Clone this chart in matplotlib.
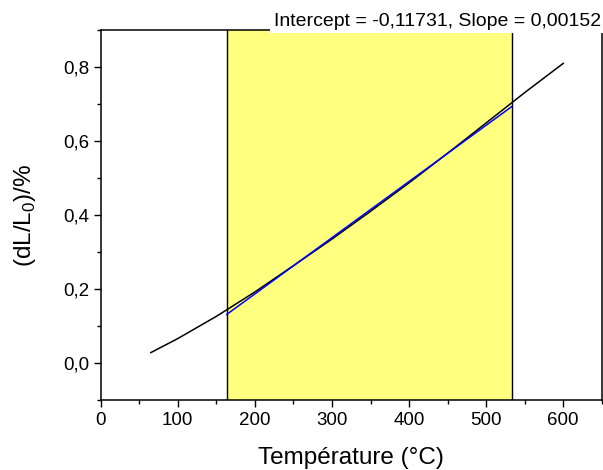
import matplotlib
matplotlib.use('Agg')
import matplotlib.pyplot as plt
from matplotlib.ticker import MultipleLocator, FuncFormatter

plt.rcParams['font.family'] = ['Liberation Sans', 'DejaVu Sans']
plt.rcParams['mathtext.fontset'] = 'custom'
plt.rcParams['mathtext.rm'] = 'Liberation Sans'

# measured dilatation curve
temp = [65, 100, 150, 200, 250, 300, 350, 400, 450, 500, 550, 600]
dl = [0.028, 0.066, 0.126, 0.192, 0.263, 0.335, 0.410, 0.487, 0.567, 0.649, 0.731, 0.810]

# linear fit over the shaded range
fit_range = [163.5, 534]
intercept = -0.11731
slope = 0.00152
fit_y = [intercept + slope * t for t in fit_range]

fig = plt.figure(figsize=(6.03, 4.70), dpi=100)
ax = fig.add_axes([0.167, 0.149, 0.831, 0.787])

ax.axvspan(fit_range[0], fit_range[1], color='#ffff80', zorder=0)
ax.axvline(fit_range[0], color='black', lw=1.0, zorder=1)
ax.axvline(fit_range[1], color='black', lw=1.0, zorder=1)

ax.plot(temp, dl, color='black', lw=1.1, zorder=2)
ax.plot(fit_range, fit_y, color='#0000ff', lw=1.1, zorder=3)

ax.set_xlim(0, 650)
ax.set_ylim(-0.1, 0.9)
ax.xaxis.set_major_locator(MultipleLocator(100))
ax.xaxis.set_minor_locator(MultipleLocator(50))
ax.yaxis.set_major_locator(MultipleLocator(0.2))
ax.yaxis.set_minor_locator(MultipleLocator(0.1))
ax.yaxis.set_major_formatter(FuncFormatter(lambda v, p: f'{v:.1f}'.replace('.', ',')))
ax.tick_params(which='major', length=5, width=1.0, labelsize=13.5, direction='out')
ax.tick_params(which='minor', length=3, width=1.0, direction='out')
for s in ax.spines.values():
    s.set_linewidth(1.1)

ax.set_xlabel('Température (°C)', fontsize=17.5, labelpad=13)
ax.set_ylabel(r'(dL/L$_\mathregular{0}$)/%', fontsize=17.5, labelpad=18)

fig.text(0.997, 1 - 25.5 / 470, 'Intercept = -0,11731, Slope = 0,00152',
         ha='right', va='baseline', fontsize=14,
         bbox=dict(boxstyle='square,pad=0.2', fc='white', ec='none'))

fig.savefig('out.png', dpi=100)
